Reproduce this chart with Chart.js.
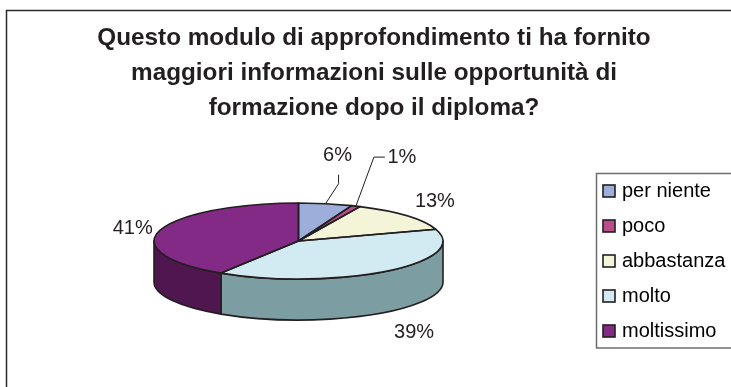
<!DOCTYPE html>
<html>

<head>
    <title>Modulo di approfondimento</title>
    <meta name="viewport" content="width=device-width, initial-scale=1.0">
    <script src="https://cdn.jsdelivr.net/npm/chart.js"></script>
    <style>
        html, body { margin: 0; padding: 0; background: #fff; overflow: hidden; }
        .chart-container { position: relative; width: 731px; height: 387px; }
    </style>
</head>

<body>
    <div class="chart-container"><canvas id="pieChart"></canvas></div>
</body>
<script>
    const categories = ["per niente", "poco", "abbastanza", "molto", "moltissimo"];
    const percentages = [6, 1, 13, 39, 41];
    const titleLines = [
        "Questo modulo di approfondimento ti ha fornito",
        "maggiori informazioni sulle opportunità di",
        "formazione dopo il diploma?"
    ];

    const topColors = ["#9DAEDA", "#BA4C8C", "#F3F4D8", "#D2EBF3", "#832A86"];
    const sideColors = ["#6F7C9A", "#7E3360", "#A9AA96", "#7C9EA3", "#4F1650"];
    const inkColor = "#231F20";
    const fontFamily = "'Liberation Sans', Arial, sans-serif";

    // pie look: centre on the page, squash of the circle, height of the wall
    const pieCenter = { x: 298.5, y: 241 };
    const squash = 0.263;
    const depth = 41;
    const pieRadius = 144.5;
    const legendLeft = 591;

    // where the % labels sit, relative to the rim at the middle of their slice
    const labelOffsets = [[12, -48], [46, -49], [28, -14], [27, 61], [-27, -2]];
    const leaderLines = [[[13, -20], [13, -29]], [[18, -49], [29, -49]], null, null, null];

    function rimPoint(element, angle) {
        return {
            x: pieCenter.x + Math.cos(angle) * element.outerRadius,
            y: pieCenter.y + Math.sin(angle) * element.outerRadius * squash
        };
    }

    // legend swatch as a small canvas, so the text can sit closer to it
    function makeSwatch(color) {
        const c = document.createElement("canvas");
        c.width = 14;
        c.height = 14;
        const g = c.getContext("2d");
        g.fillStyle = color;
        g.fillRect(1, 1, 12, 12);
        g.strokeStyle = inkColor;
        g.lineWidth = 1.6;
        g.strokeRect(1, 1, 12, 12);
        return c;
    }

    const pie3d = {
        id: "pie3d",
        afterLayout(chart) {
            chart.legend.left = legendLeft;
        },
        beforeDraw(chart) {
            const ctx = chart.ctx;
            const leg = chart.legend;
            ctx.save();
            ctx.fillStyle = "#fff";
            ctx.fillRect(0, 0, chart.width, chart.height);
            // outer frame, runs off the page on the right and bottom
            ctx.strokeStyle = "#2b2b2b";
            ctx.lineWidth = 1.5;
            ctx.beginPath();
            ctx.moveTo(chart.width, 10.5);
            ctx.lineTo(6.5, 10.5);
            ctx.lineTo(6.5, chart.height);
            ctx.stroke();
            // legend frame
            ctx.strokeStyle = "#6d6d6d";
            ctx.beginPath();
            ctx.moveTo(chart.width, 173.5);
            ctx.lineTo(leg.left + 5.5, 173.5);
            ctx.lineTo(leg.left + 5.5, 348);
            ctx.lineTo(chart.width, 348);
            ctx.stroke();
            ctx.restore();
        },
        beforeDatasetsDraw(chart) {
            const ctx = chart.ctx;
            const arcs = chart.getDatasetMeta(0).data;
            // wall below the front half of the rim
            ctx.save();
            ctx.lineWidth = 1.6;
            ctx.lineJoin = "round";
            ctx.strokeStyle = inkColor;
            arcs.forEach((arc, i) => {
                const from = Math.max(arc.startAngle, 0);
                const to = Math.min(arc.endAngle, Math.PI);
                if (to <= from) return;
                const rx = arc.outerRadius;
                const ry = rx * squash;
                ctx.beginPath();
                ctx.ellipse(pieCenter.x, pieCenter.y, rx, ry, 0, from, to);
                ctx.ellipse(pieCenter.x, pieCenter.y + depth, rx, ry, 0, to, from, true);
                ctx.closePath();
                ctx.fillStyle = sideColors[i];
                ctx.fill();
                ctx.stroke();
            });
            ctx.restore();
            // top face: the library's own arcs, squashed into an ellipse
            const first = arcs[0];
            ctx.save();
            ctx.translate(pieCenter.x, pieCenter.y);
            ctx.scale(1, squash);
            ctx.translate(-first.x, -first.y);
        },
        afterDatasetsDraw(chart) {
            const ctx = chart.ctx;
            ctx.restore();
            const arcs = chart.getDatasetMeta(0).data;
            ctx.save();
            ctx.lineWidth = 1.6;
            ctx.lineJoin = "round";
            ctx.strokeStyle = inkColor;
            arcs.forEach(arc => {
                ctx.beginPath();
                ctx.moveTo(pieCenter.x, pieCenter.y);
                ctx.ellipse(pieCenter.x, pieCenter.y, arc.outerRadius, arc.outerRadius * squash, 0, arc.startAngle, arc.endAngle);
                ctx.closePath();
                ctx.stroke();
            });
            // % labels and leader lines
            ctx.font = "20px " + fontFamily;
            ctx.fillStyle = inkColor;
            ctx.textAlign = "center";
            ctx.textBaseline = "middle";
            arcs.forEach((arc, i) => {
                const p = rimPoint(arc, (arc.startAngle + arc.endAngle) / 2);
                ctx.fillText(percentages[i] + "%", p.x + labelOffsets[i][0], p.y + labelOffsets[i][1]);
                if (leaderLines[i]) {
                    ctx.lineWidth = 1;
                    ctx.beginPath();
                    ctx.moveTo(p.x, p.y);
                    leaderLines[i].forEach(o => ctx.lineTo(p.x + o[0], p.y + o[1]));
                    ctx.stroke();
                }
            });
            ctx.restore();
        }
    };

    new Chart(document.getElementById("pieChart").getContext("2d"), {
        type: "pie",
        data: {
            labels: categories,
            datasets: [{
                data: percentages,
                backgroundColor: topColors,
                borderWidth: 0,
                clip: false
            }]
        },
        options: {
            responsive: true,
            maintainAspectRatio: false,
            animation: false,
            events: [],
            radius: pieRadius,
            layout: { padding: { left: 17 } },
            plugins: {
                tooltip: { enabled: false },
                title: {
                    display: true,
                    text: titleLines,
                    color: inkColor,
                    font: { family: fontFamily, size: 24.3, weight: "bold", lineHeight: 35 / 24.3 },
                    padding: { top: 21, bottom: 9 }
                },
                legend: {
                    position: "right",
                    fullSize: false,
                    labels: {
                        color: inkColor,
                        font: { family: fontFamily, size: 20 },
                        usePointStyle: true,
                        pointStyleWidth: 6,
                        padding: 15,
                        generateLabels(chart) {
                            return categories.map((c, i) => ({
                                text: c,
                                pointStyle: makeSwatch(topColors[i]),
                                index: i
                            }));
                        }
                    }
                }
            }
        },
        plugins: [pie3d]
    });
</script>

</html>
